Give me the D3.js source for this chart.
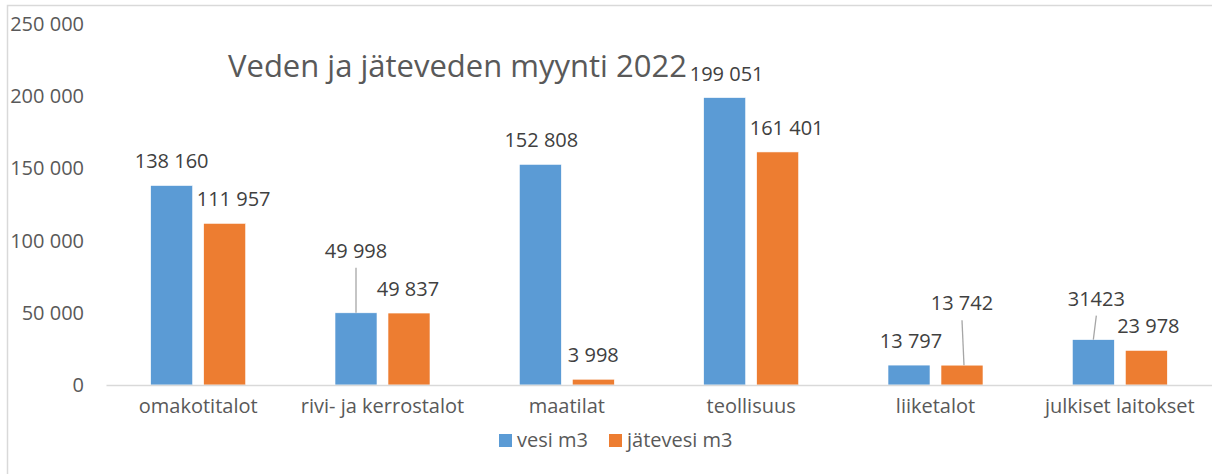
<!DOCTYPE html>
<html>
<head>
<meta charset="utf-8">
<script src="https://cdn.jsdelivr.net/npm/d3@7"></script>
<style>
  body { margin: 0; background: #fff; }
  text { font-family: "Open Sans", sans-serif; }
</style>
</head>
<body>
<div id="chart"></div>
<script>
// data
const categories = ["omakotitalot", "rivi- ja kerrostalot", "maatilat", "teollisuus", "liiketalot", "julkiset laitokset"];
const seriesNames = ["vesi m3", "jätevesi m3"];
const vesi = [138160, 49998, 152808, 199051, 13797, 31423];
const jatevesi = [111957, 49837, 3998, 161401, 13742, 23978];
const vesiLabels = ["138 160", "49 998", "152 808", "199 051", "13 797", "31423"];
const jatevesiLabels = ["111 957", "49 837", "3 998", "161 401", "13 742", "23 978"];
const yTicks = [0, 50000, 100000, 150000, 200000, 250000];
const yTickLabels = ["0", "50 000", "100 000", "150 000", "200 000", "250 000"];

// manual nudges of the data labels (like dragged labels in a spreadsheet)
const vesiNudge = [[0, 0], [0, -38], [1, 0], [2, 0], [2, 0], [3, -17]];
const jatevesiNudge = [[9, 0], [-1, 0], [0, 0], [9, 0], [0, -38], [2, 0]];

const colors = ["#5B9BD5", "#ED7D31"];

function main() {
    const W = 1212, H = 474;
    const plot = {left: 106, right: 1212, top: 24, bottom: 385};
    const fs = "20px";

    const svg = d3.select("#chart")
        .append("svg")
        .attr("width", W)
        .attr("height", H);

    // chart frame
    svg.append("rect")
        .attr("x", 7.5).attr("y", 5.5)
        .attr("width", W + 10).attr("height", H + 10)
        .attr("fill", "none")
        .attr("stroke", "#D9D9D9")
        .attr("stroke-width", 1.5);

    const x0 = d3.scaleBand()
        .domain(categories)
        .range([plot.left, plot.right])
        .paddingInner(0)
        .paddingOuter(0);

    const x1 = d3.scaleBand()
        .domain(seriesNames)
        .range([0, x0.bandwidth()])
        .paddingInner(0.2075)
        .paddingOuter(0.843);

    const y = d3.scaleLinear()
        .domain([0, 250000])
        .range([plot.bottom, plot.top]);

    // y axis labels only (no line, no ticks)
    const yAxis = d3.axisLeft(y)
        .tickValues(yTicks)
        .tickFormat((d, i) => yTickLabels[i])
        .tickSize(0)
        .tickPadding(22);
    const ya = svg.append("g")
        .attr("transform", `translate(${plot.left},0)`)
        .call(yAxis);
    ya.select(".domain").remove();
    ya.selectAll("text")
        .attr("font-family", "Open Sans")
        .attr("font-size", fs)
        .attr("fill", "#595959");

    // title
    svg.append("text")
        .attr("x", 228)
        .attr("y", 77)
        .attr("font-size", "31px")
        .attr("fill", "#595959")
        .text("Veden ja jäteveden myynti 2022");

    const series = [
        {name: seriesNames[0], values: vesi, labels: vesiLabels, nudge: vesiNudge, color: colors[0]},
        {name: seriesNames[1], values: jatevesi, labels: jatevesiLabels, nudge: jatevesiNudge, color: colors[1]}
    ];

    series.forEach(function (s) {
        const rows = categories.map(function (c, i) {
            return {cat: c, value: s.values[i], label: s.labels[i], nudge: s.nudge[i]};
        });

        svg.append("g")
            .selectAll("rect")
            .data(rows)
            .enter()
            .append("rect")
            .attr("x", d => x0(d.cat) + x1(s.name))
            .attr("y", d => y(d.value))
            .attr("width", x1.bandwidth())
            .attr("height", d => y(0) - y(d.value))
            .attr("fill", s.color)
            .attr("stroke", "#fff")
            .attr("stroke-width", 0.6);

        const cx = d => x0(d.cat) + x1(s.name) + x1.bandwidth() / 2;

        // leader lines for labels that were moved away from the bar
        svg.append("g")
            .selectAll("line")
            .data(rows.filter(d => d.nudge[1] < -10))
            .enter()
            .append("line")
            .attr("x1", d => cx(d) + d.nudge[0])
            .attr("y1", d => y(d.value) - 17 + d.nudge[1] + 10)
            .attr("x2", d => cx(d) + (d.nudge[0] === 0 && s.name === seriesNames[1] ? 2 : 0))
            .attr("y2", d => y(d.value))
            .attr("stroke", "#A6A6A6")
            .attr("stroke-width", 1.3);

        svg.append("g")
            .selectAll("text")
            .data(rows)
            .enter()
            .append("text")
            .attr("x", d => cx(d) + d.nudge[0])
            .attr("y", d => y(d.value) - 17 + d.nudge[1])
            .attr("text-anchor", "middle")
            .attr("font-size", fs)
            .attr("fill", "#404040")
            .text(d => d.label);
    });

    // baseline / category axis
    const xAxis = d3.axisBottom(x0).tickSize(0).tickPadding(14);
    const xa = svg.append("g")
        .attr("transform", `translate(0,${plot.bottom})`)
        .call(xAxis);
    xa.select(".domain")
        .attr("stroke", "#D9D9D9")
        .attr("stroke-width", 1.5);
    xa.selectAll("text")
        .attr("font-family", "Open Sans")
        .attr("font-size", fs)
        .attr("fill", "#595959");

    // legend
    const legendX = [499, 609];
    const legend = svg.append("g");
    seriesNames.forEach(function (n, i) {
        legend.append("rect")
            .attr("x", legendX[i])
            .attr("y", 434)
            .attr("width", 13)
            .attr("height", 13)
            .attr("fill", colors[i]);
        legend.append("text")
            .attr("x", legendX[i] + 18)
            .attr("y", 447)
            .attr("font-size", fs)
            .attr("fill", "#595959")
            .text(n);
    });
}

main()
</script>
</body>
</html>
